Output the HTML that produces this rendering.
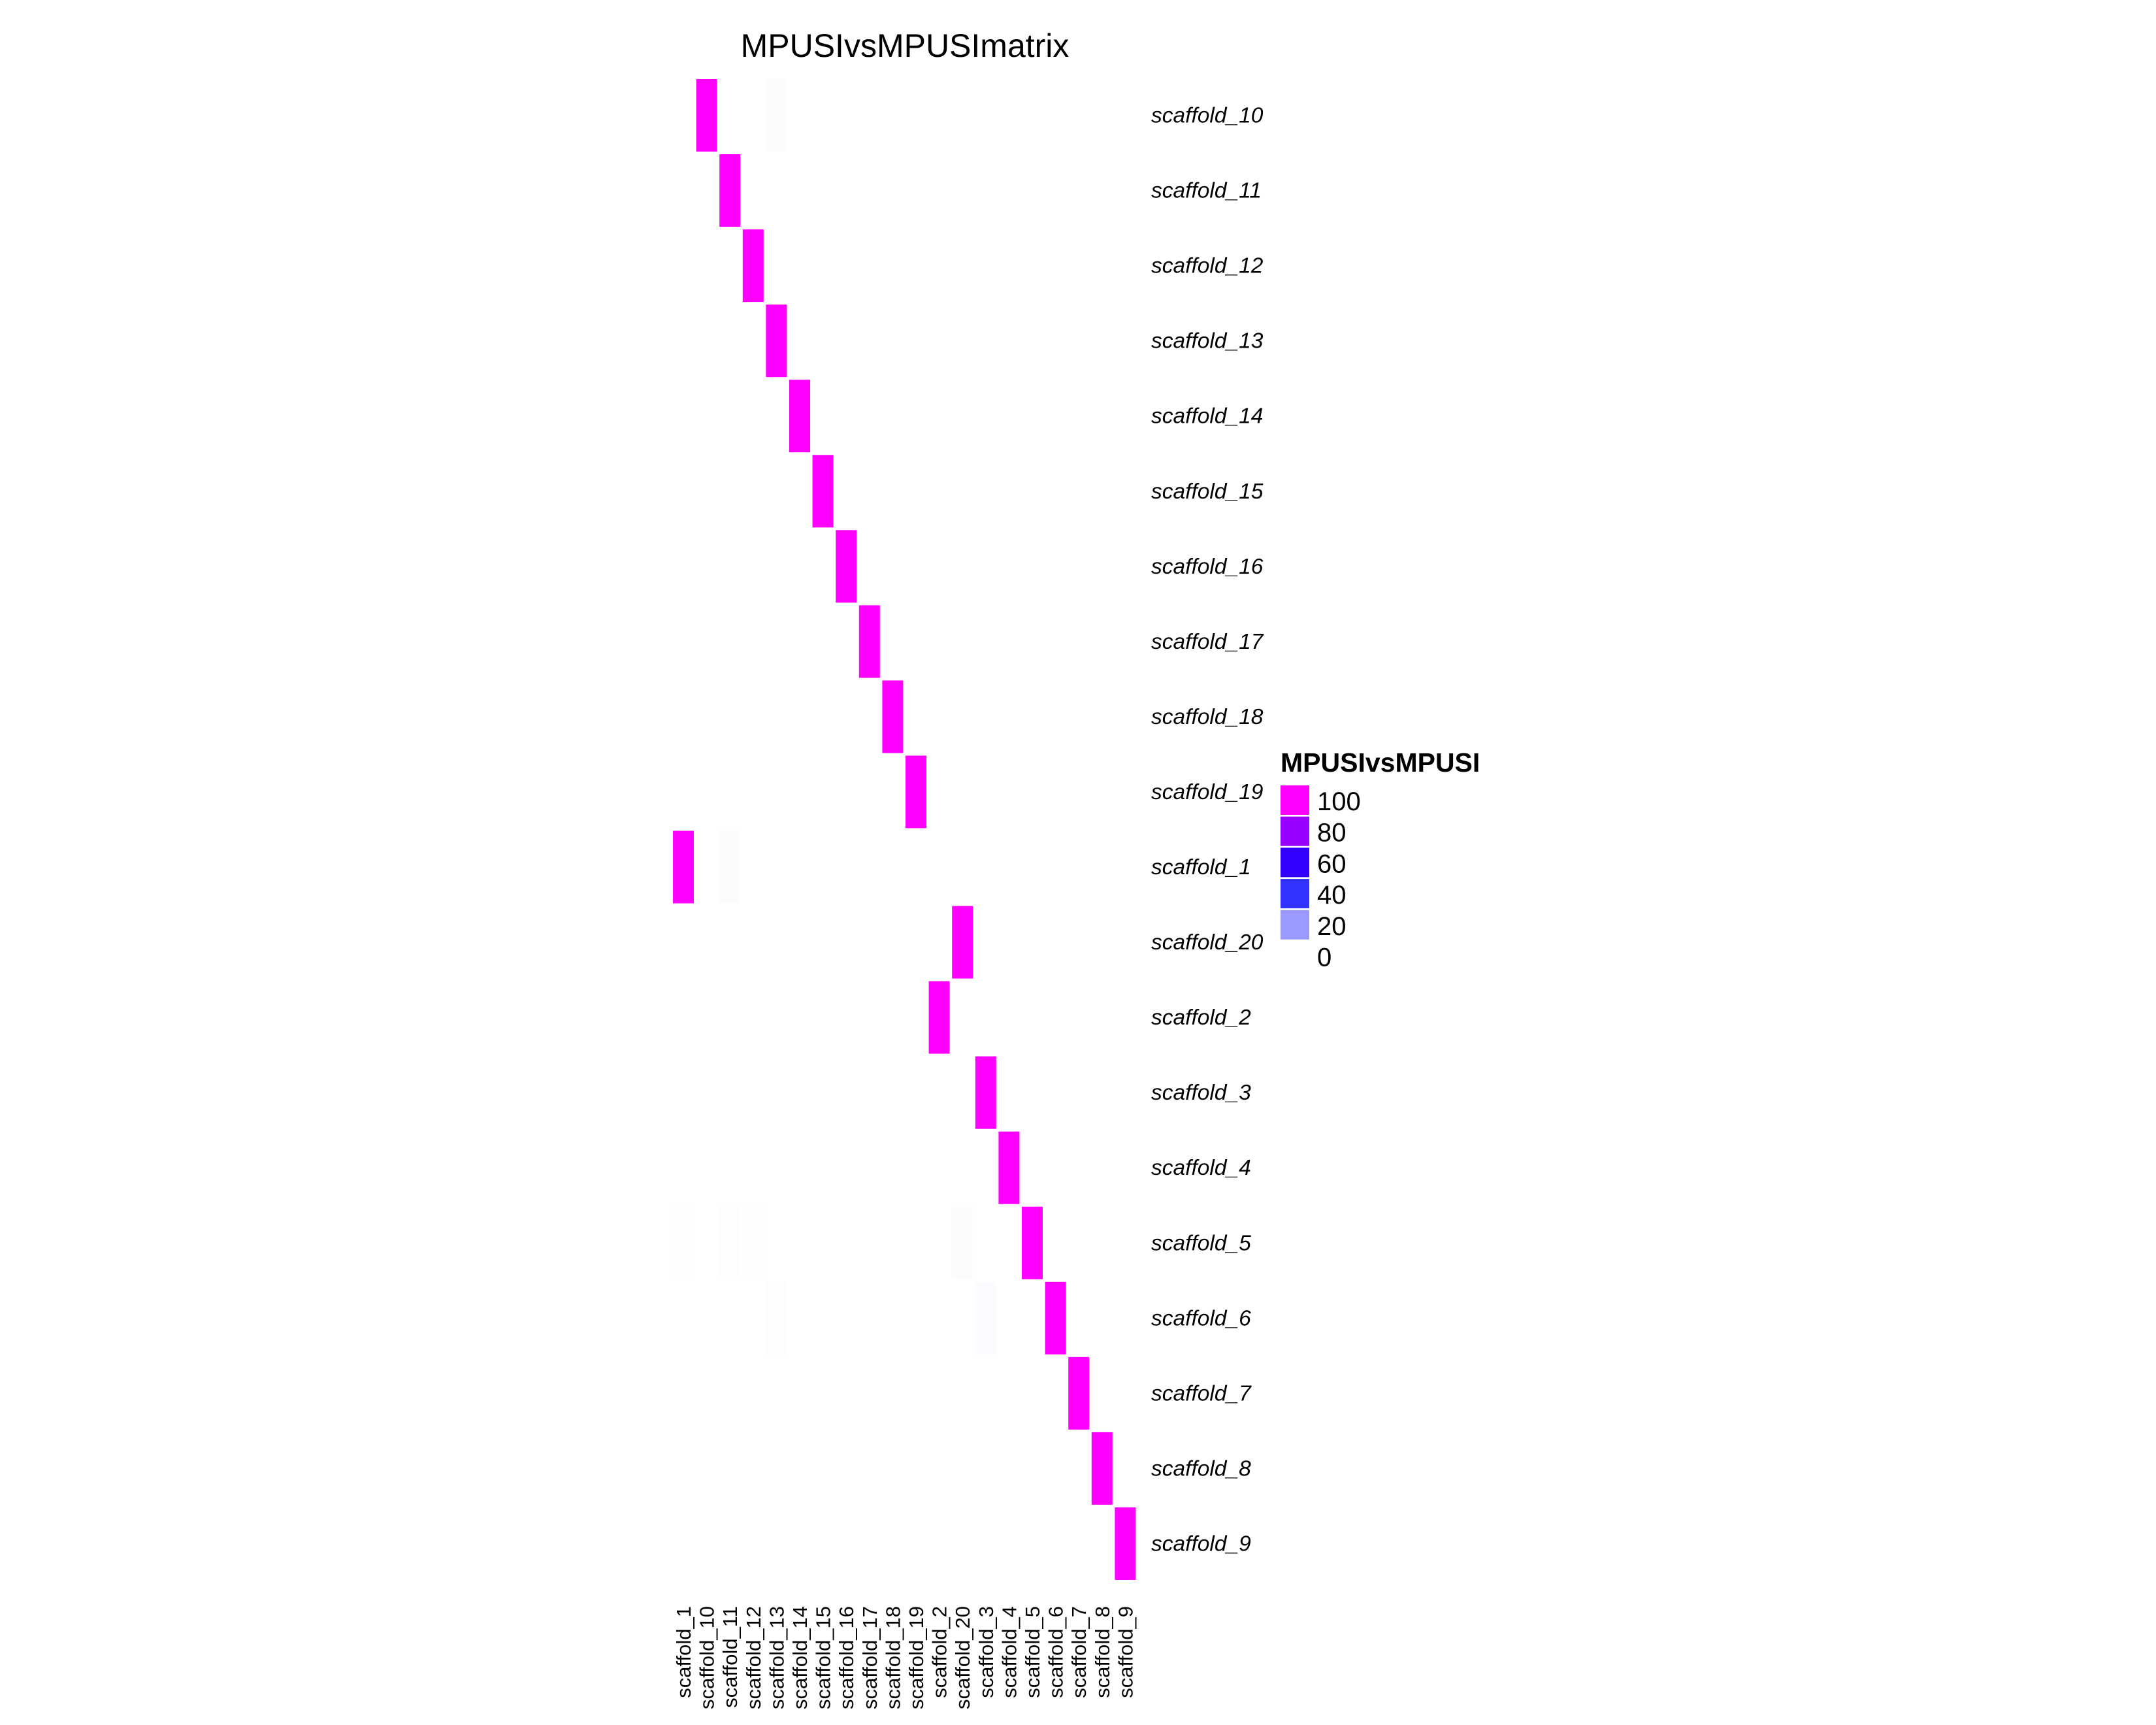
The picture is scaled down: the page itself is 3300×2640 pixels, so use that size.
<!DOCTYPE html>
<html><head><meta charset="utf-8">
<style>
html,body{margin:0;padding:0;background:#fff;}
svg{display:block;font-family:"Liberation Sans",sans-serif;}
</style></head>
<body>
<svg id="chart" width="3300" height="2640" viewBox="0 0 3300 2640" xmlns="http://www.w3.org/2000/svg">
<rect width="3300" height="2640" fill="#fff"/>
<text x="1385" y="87" font-size="50" text-anchor="middle">MPUSIvsMPUSImatrix</text>
<g id="cells"></g>
<g id="rowlabels"></g>
<g id="collabels"></g>
<g id="legend">
<text x="1960" y="1181" font-size="41" font-weight="bold">MPUSIvsMPUSI</text>
</g>
</svg>
<script>
const rowNames = ["scaffold_10","scaffold_11","scaffold_12","scaffold_13","scaffold_14","scaffold_15","scaffold_16","scaffold_17","scaffold_18","scaffold_19","scaffold_1","scaffold_20","scaffold_2","scaffold_3","scaffold_4","scaffold_5","scaffold_6","scaffold_7","scaffold_8","scaffold_9"];
const colNames = ["scaffold_1","scaffold_10","scaffold_11","scaffold_12","scaffold_13","scaffold_14","scaffold_15","scaffold_16","scaffold_17","scaffold_18","scaffold_19","scaffold_2","scaffold_20","scaffold_3","scaffold_4","scaffold_5","scaffold_6","scaffold_7","scaffold_8","scaffold_9"];
// off-diagonal faint values: [row, col, value]
const faintCells = [
  ["scaffold_10","scaffold_13",0.6],
  ["scaffold_1","scaffold_11",0.5],
  ["scaffold_5","scaffold_1",0.4],
  ["scaffold_5","scaffold_11",0.4],
  ["scaffold_5","scaffold_12",0.4],
  ["scaffold_5","scaffold_20",0.5],
  ["scaffold_6","scaffold_13",0.3],
  ["scaffold_6","scaffold_3",0.8]
];
const diagValue = 100;
const legendValues = [100,80,60,40,20,0];
const scaleStops = [0,20,40,60,80,100];
const scaleColors = [[255,255,255],[153,153,255],[51,51,255],[51,0,255],[153,0,255],[255,0,255]];

const NS = "http://www.w3.org/2000/svg";
const x0 = 1030, colPitch = 35.6, colW = 32;
const y0 = 121, rowPitch = 115.05, rowH = 111;
function xScale(name){ return x0 + colNames.indexOf(name)*colPitch; }
function yScale(name){ return y0 + rowNames.indexOf(name)*rowPitch; }
function color(v){
  for(let i=0;i<scaleStops.length-1;i++){
    if(v<=scaleStops[i+1]){
      const t=(v-scaleStops[i])/(scaleStops[i+1]-scaleStops[i]);
      const a=scaleColors[i], b=scaleColors[i+1];
      return "rgb("+a.map((c,k)=>Math.round(c+(b[k]-c)*t)).join(",")+")";
    }
  }
  const c=scaleColors[scaleColors.length-1];
  return "rgb("+c.join(",")+")";
}
function mk(tag, attrs){ const e=document.createElementNS(NS,tag); for(const k in attrs) e.setAttribute(k,attrs[k]); return e; }

const cells = document.getElementById("cells");
const allCells = rowNames.map(r=>[r,r,diagValue]).concat(faintCells);
allCells.forEach(([r,c,v])=>{
  const el = mk("rect",{x:xScale(c),y:yScale(r),width:colW,height:rowH,fill:color(v)});
  
  
  cells.appendChild(el);
});

const rl = document.getElementById("rowlabels");
rowNames.forEach(r=>{
  const t = mk("text",{x:1762,y:yScale(r)+rowH/2+11,"font-size":33.5,"font-style":"italic"});
  t.textContent = r;
  
  
  rl.appendChild(t);
});

const cl = document.getElementById("collabels");
colNames.forEach(c=>{
  const cx = xScale(c)+colW/2+11;
  const t = mk("text",{x:0,y:0,"font-size":31,"text-anchor":"end",transform:"translate("+cx+",2458) rotate(-90)"});
  t.textContent = c;
  
  
  cl.appendChild(t);
});

const lg = document.getElementById("legend");
legendValues.forEach((v,i)=>{
  const y = 1202 + i*47.7;
  const r = mk("rect",{x:1960,y:y,width:44,height:45,fill:color(v)});
  
  
  lg.appendChild(r);
  const t = mk("text",{x:2016,y:y+38,"font-size":40});
  t.textContent = v;
  
  
  lg.appendChild(t);
});
</script>
</body></html>
